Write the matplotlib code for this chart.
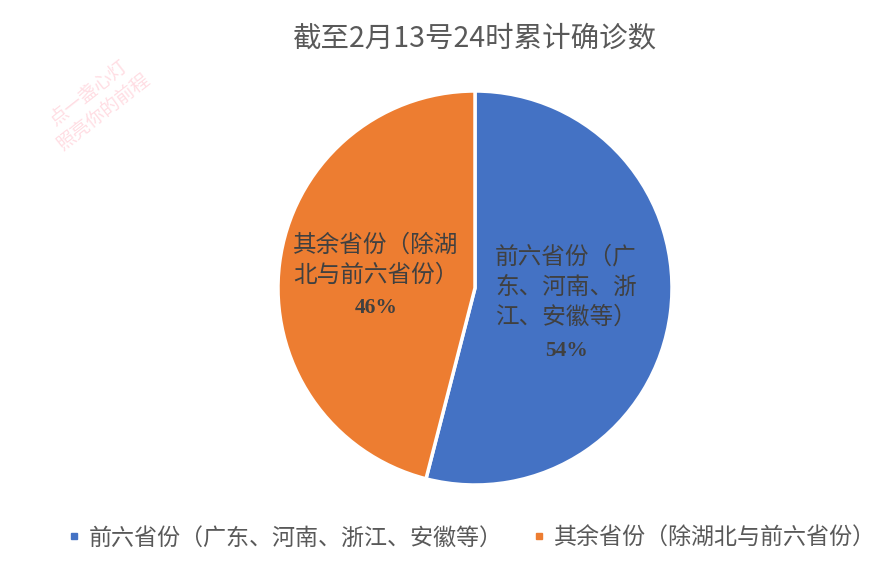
import matplotlib
matplotlib.use("Agg")
import matplotlib.pyplot as plt
from matplotlib.lines import Line2D

plt.rcParams['font.family'] = ['Noto Sans CJK SC', 'DejaVu Sans']

title = "截至2月13号24时累计确诊数"
categories = ["前六省份（广东、河南、浙江、安徽等）", "其余省份（除湖北与前六省份）"]
inner_labels = ["前六省份（广\n东、河南、浙\n江、安徽等）", "其余省份（除湖\n北与前六省份）"]
values = [54, 46]
colors = ["#4472C4", "#ED7D31"]

W, H = 882, 564
fig = plt.figure(figsize=(W / 100, H / 100), dpi=100)
cx, cy, r = 475, 288, 197
ax = fig.add_axes([(cx - r) / W, (H - cy - r) / H, 2 * r / W, 2 * r / H])
ax.pie(values, colors=colors, startangle=90, counterclock=False,
       wedgeprops=dict(edgecolor="white", linewidth=2.5), radius=1)
ax.set_xlim(-1, 1)
ax.set_ylim(-1, 1)
ax.set_aspect("equal")
ax.axis("off")

def d(px, py):
    return (px - cx) / r, (cy - py) / r

total = sum(values)
# blue label
x, y = d(566, 287)
ax.text(x, y, inner_labels[0], ha="center", va="center", fontsize=17,
        color="#404040", linespacing=1.4)
x, y = d(566, 351)
ax.text(x, y, f"{round(values[0] / total * 100)}%", ha="center", va="center",
        fontsize=15.5, fontweight="bold", family="Liberation Serif", color="#404040")
# orange label
x, y = d(376, 260)
ax.text(x, y, inner_labels[1], ha="center", va="center", fontsize=17,
        color="#404040", linespacing=1.4)
x, y = d(376, 308)
ax.text(x, y, f"{round(values[1] / total * 100)}%", ha="center", va="center",
        fontsize=15.5, fontweight="bold", family="Liberation Serif", color="#404040")

fig.text(475 / W, 1 - 38 / H, title, ha="center", va="center", fontsize=20.5,
         color="#595959")

# watermark
fig.text(96 / W, 1 - 103 / H, "点一盏心灯\n照亮你的前程", ha="center", va="center",
         fontsize=13.5, color="#FF9FB0", alpha=0.35, rotation=38, linespacing=1.1)

handles = [Line2D([], [], marker="s", linestyle="none", color=c, markersize=5)
           for c in colors]
fig.legend(handles, categories, loc="center", bbox_to_anchor=(472 / W, 1 - 538 / H),
           ncol=2, frameon=False, fontsize=16.6, handlelength=0.5, handletextpad=0.4,
           columnspacing=1.3, labelcolor="#595959", borderpad=0, borderaxespad=0)

fig.savefig("out.png", dpi=100, facecolor="white")
